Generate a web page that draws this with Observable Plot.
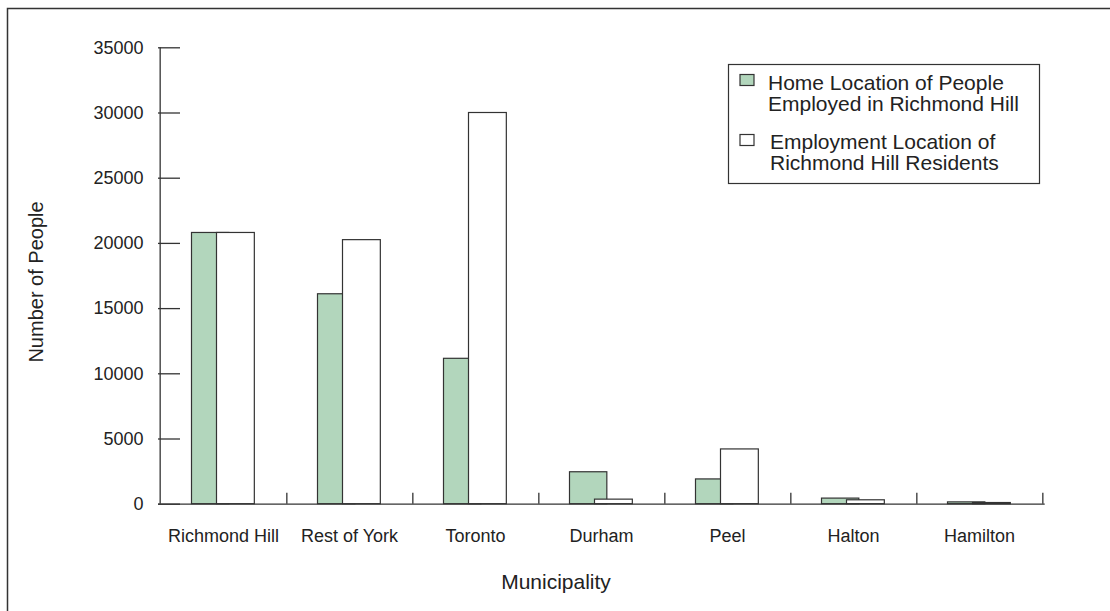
<!DOCTYPE html>
<html><head><meta charset="utf-8">
<script src="https://cdn.jsdelivr.net/npm/d3@7"></script>
<script src="https://cdn.jsdelivr.net/npm/@observablehq/plot@0.6"></script>
<style>
body{margin:0;background:#fff;}
#chart{position:relative;width:1110px;height:611px;}
</style>
</head><body><div id="chart"></div>
<script>
const municipalities = ["Richmond Hill", "Rest of York", "Toronto", "Durham", "Peel", "Halton", "Hamilton"];
const homeLocation = [20800, 16100, 11150, 2450, 1900, 430, 140];
const employmentLocation = [20800, 20250, 30000, 350, 4200, 300, 90];
const yTicks = [0, 5000, 10000, 15000, 20000, 25000, 30000, 35000];
const seriesNames = [
  ["Home Location of People", "Employed in Richmond Hill"],
  ["Employment Location of", "Richmond Hill Residents"]
];
const xTitle = "Municipality";
const yTitle = "Number of People";

const W = 1110, H = 611, mL = 158, mR = 65.3, mT = 47.3, mB = 107.3;
const plotW = W - mL - mR, plotH = H - mT - mB;
const bw = plotW / municipalities.length;
const ink = "#333";
const green = "#b2d6bc";

const home = municipalities.map((m, i) => ({m, v: homeLocation[i]}));
const employ = municipalities.map((m, i) => ({m, v: employmentLocation[i]}));

const plot = Plot.plot({
  width: W, height: H,
  marginLeft: mL, marginRight: mR, marginTop: mT, marginBottom: mB,
  style: {fontFamily: "'Liberation Sans', Arial, sans-serif", background: "#fff", color: "#222"},
  x: {type: "band", domain: municipalities, padding: 0, label: null},
  y: {domain: [0, 35000], label: null},
  marks: [
    Plot.barY(home, {x: "m", y: "v", fill: green, stroke: ink, strokeWidth: 1.2, insetLeft: 31.5, insetRight: bw - 69.5}),
    Plot.barY(employ, {x: "m", y: "v", fill: "#fff", stroke: ink, strokeWidth: 1.2, insetLeft: 56.5, insetRight: bw - 95}),
    Plot.ruleY([0], {stroke: ink, strokeWidth: 1.3}),
    Plot.ruleX([municipalities[0]], {x: d => d, dx: -bw / 2, stroke: ink, strokeWidth: 1.3}),
    Plot.ruleX(municipalities, {x: d => d, dx: bw / 2, insetTop: plotH - 11, stroke: ink, strokeWidth: 1.3}),
    Plot.tickY(yTicks, {y: d => d, insetRight: plotW - 22, stroke: ink, strokeWidth: 1.3}),
    Plot.axisY(yTicks, {tickSize: 0, tickPadding: 15, fontSize: 18, label: null, tickFormat: d => String(d)}),
    Plot.axisX({tickSize: 0, tickPadding: 25, fontSize: 18, label: null})
  ]
});

const svg = d3.select(plot);
// outer border
svg.append("path").attr("d", "M7.5,611V8.5H1110").attr("fill", "none").attr("stroke", ink).attr("stroke-width", 1.5);
// axis titles
svg.append("text").attr("x", 556).attr("y", 589).attr("text-anchor", "middle")
  .attr("font-size", 21).attr("fill", "#222").text(xTitle);
svg.append("text").attr("transform", "translate(42.5,282) rotate(-90)").attr("text-anchor", "middle")
  .attr("font-size", 20).attr("fill", "#222").text(yTitle);
// legend
const lg = svg.append("g").attr("font-size", 21).attr("fill", "#222").attr("text-anchor", "start");
lg.append("rect").attr("x", 728.5).attr("y", 64.5).attr("width", 311).attr("height", 119)
  .attr("fill", "#fff").attr("stroke", ink).attr("stroke-width", 1.2);
const fills = [green, "#fff"];
const swY = [74.5, 134.5];
const txX = [768, 770];
const txY = [[89.5, 111], [148.5, 170]];
seriesNames.forEach((lines, k) => {
  lg.append("rect").attr("x", 740).attr("y", swY[k]).attr("width", 14).attr("height", 11)
    .attr("fill", fills[k]).attr("stroke", ink).attr("stroke-width", 1.2);
  lines.forEach((t, j) => {
    lg.append("text").attr("x", txX[k]).attr("y", txY[k][j]).attr("text-anchor", "start").text(t);
  });
});

document.getElementById("chart").appendChild(plot);
</script>
</body></html>
